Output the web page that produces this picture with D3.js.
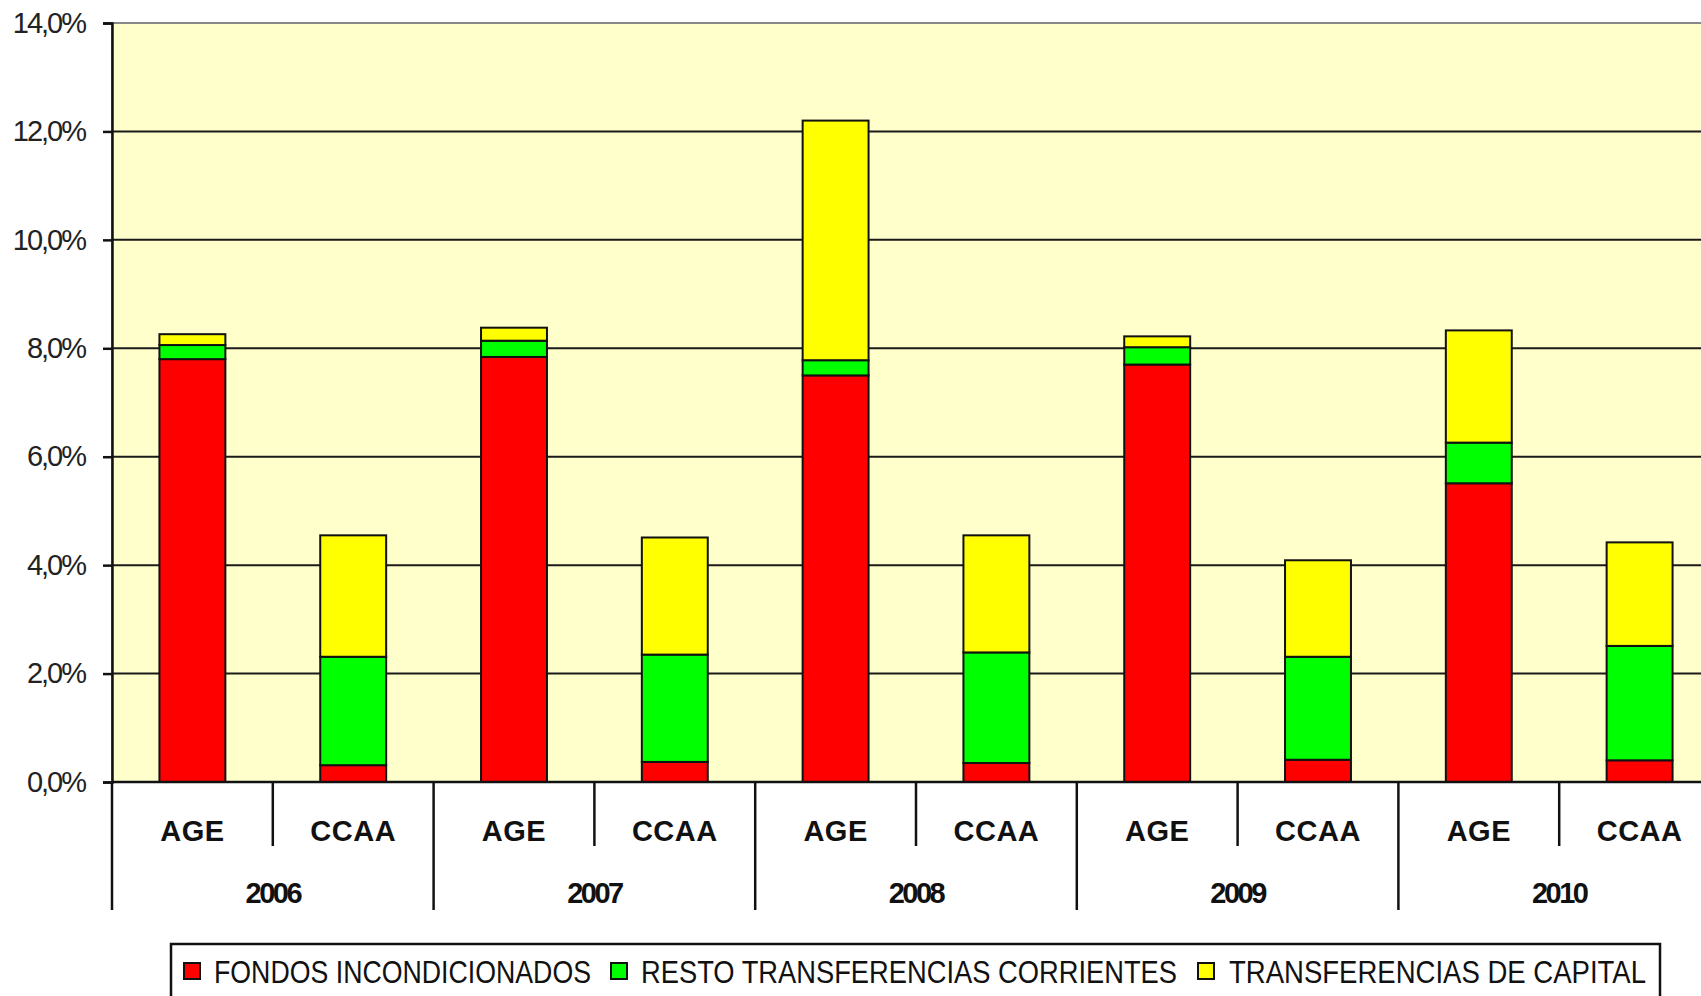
<!DOCTYPE html>
<html>
<head>
<meta charset="utf-8">
<script src="https://cdn.jsdelivr.net/npm/d3@7"></script>
<style>
  body { margin: 0; background: #fff; overflow: hidden; }
  svg { display: block; }
</style>
</head>
<body>
<div id="chart"></div>
<script>
// data (percent)
var years = ["2006", "2007", "2008", "2009", "2010"];
var admins = ["AGE", "CCAA"];
var seriesNames = ["FONDOS INCONDICIONADOS", "RESTO TRANSFERENCIAS CORRIENTES", "TRANSFERENCIAS DE CAPITAL"];
var seriesColors = ["#ff0000", "#00ff00", "#ffff00"];
// order: 2006 AGE, 2006 CCAA, 2007 AGE, ...
var fondos    = [7.80, 0.31, 7.84, 0.37, 7.50, 0.35, 7.70, 0.41, 5.51, 0.40];
var resto     = [0.26, 2.00, 0.30, 1.98, 0.28, 2.04, 0.32, 1.90, 0.75, 2.11];
var capital   = [0.20, 2.24, 0.24, 2.16, 4.42, 2.16, 0.20, 1.78, 2.07, 1.91];
var yTicks = [0, 2, 4, 6, 8, 10, 12, 14];

var w = 1701;
var h = 996;
var plotLeft = 112, plotRight = 1720, plotTop = 23, plotBottom = 782;

var rows = [];
years.forEach(function(y, yi) {
    admins.forEach(function(a, ai) {
        var i = yi * 2 + ai;
        rows.push({key: y + "-" + a, year: y, admin: a, s0: fondos[i], s1: resto[i], s2: capital[i]});
    });
});

var svg = d3.select("#chart")
            .append("svg")
            .attr("width", w)
            .attr("height", h);

var x = d3.scaleBand()
          .domain(rows.map(function(d) { return d.key; }))
          .range([plotLeft, plotRight])
          .paddingInner(0.59)
          .paddingOuter(0.295);

var y = d3.scaleLinear()
          .domain([0, 14])
          .range([plotBottom, plotTop]);

var step = x.step();
var gap = step * x.paddingInner() / 2;

// plot background
svg.append("rect")
   .attr("x", plotLeft)
   .attr("y", plotTop)
   .attr("width", plotRight - plotLeft)
   .attr("height", plotBottom - plotTop)
   .attr("fill", "#ffffcc")
   .attr("stroke", "#888")
   .attr("stroke-width", 2);

// gridlines
svg.append("g")
   .selectAll("line")
   .data(yTicks.slice(1, -1))
   .enter()
   .append("line")
   .attr("x1", plotLeft)
   .attr("x2", plotRight)
   .attr("y1", function(d) { return y(d); })
   .attr("y2", function(d) { return y(d); })
   .attr("stroke", "#1a1a1a")
   .attr("stroke-width", 2);

// y axis
var yAxis = d3.axisLeft(y)
              .tickValues(yTicks)
              .tickSize(9)
              .tickPadding(18)
              .tickFormat(function(d) { return d.toFixed(1).replace(".", ",") + "%"; });

var gy = svg.append("g")
            .attr("transform", "translate(" + plotLeft + ",0)")
            .call(yAxis);
gy.select(".domain").attr("stroke", "#111").attr("stroke-width", 2.5);
gy.selectAll(".tick line").attr("stroke", "#111").attr("stroke-width", 2.5);
gy.selectAll(".tick text")
  .attr("font-family", "Liberation Sans, Arial, sans-serif")
  .attr("font-size", 29)
  .attr("letter-spacing", -2)
  .attr("fill", "#222");

// stacked bars
var stack = d3.stack().keys(["s0", "s1", "s2"]);
var layers = stack(rows);

svg.append("g")
   .selectAll("g")
   .data(layers)
   .enter()
   .append("g")
   .attr("fill", function(d, i) { return seriesColors[i]; })
   .selectAll("rect")
   .data(function(d) { return d; })
   .enter()
   .append("rect")
   .attr("x", function(d) { return x(d.data.key); })
   .attr("y", function(d) { return y(d[1]); })
   .attr("width", x.bandwidth())
   .attr("height", function(d) { return y(d[0]) - y(d[1]); })
   .attr("stroke", "#111")
   .attr("stroke-width", 2);

// x axis baseline
svg.append("line")
   .attr("x1", plotLeft)
   .attr("x2", plotRight)
   .attr("y1", plotBottom)
   .attr("y2", plotBottom)
   .attr("stroke", "#111")
   .attr("stroke-width", 2.5);

// category separators: short between AGE/CCAA, long between years
svg.append("g")
   .selectAll("line")
   .data(rows)
   .enter()
   .append("line")
   .attr("x1", function(d) { return x(d.key) - gap; })
   .attr("x2", function(d) { return x(d.key) - gap; })
   .attr("y1", plotBottom)
   .attr("y2", function(d) { return d.admin === "AGE" ? 910 : 846; })
   .attr("stroke", "#111")
   .attr("stroke-width", 2.5);

// admin labels
svg.append("g")
   .selectAll("text")
   .data(rows)
   .enter()
   .append("text")
   .text(function(d) { return d.admin; })
   .attr("x", function(d) { return x(d.key) + x.bandwidth() / 2; })
   .attr("y", 841)
   .attr("text-anchor", "middle")
   .attr("font-family", "Liberation Sans, Arial, sans-serif")
   .attr("font-weight", "bold")
   .attr("font-size", 29)
   .attr("letter-spacing", 0.5)
   .attr("fill", "#111");

// year labels
svg.append("g")
   .selectAll("text")
   .data(years)
   .enter()
   .append("text")
   .text(function(d) { return d; })
   .attr("x", function(d) { return x(d + "-AGE") - gap + step; })
   .attr("y", 903)
   .attr("text-anchor", "middle")
   .attr("font-family", "Liberation Sans, Arial, sans-serif")
   .attr("font-weight", "bold")
   .attr("font-size", 29)
   .attr("letter-spacing", -2.5)
   .attr("fill", "#111");

// legend
var legendItems = [
    {name: seriesNames[0], color: seriesColors[0], sx: 184, tx: 214, tw: 377},
    {name: seriesNames[1], color: seriesColors[1], sx: 611, tx: 641, tw: 536},
    {name: seriesNames[2], color: seriesColors[2], sx: 1198, tx: 1229, tw: 417}
];

svg.append("rect")
   .attr("x", 171)
   .attr("y", 944)
   .attr("width", 1489)
   .attr("height", 80)
   .attr("fill", "#fff")
   .attr("stroke", "#111")
   .attr("stroke-width", 2.5);

var lg = svg.append("g")
            .selectAll("g")
            .data(legendItems)
            .enter()
            .append("g");

lg.append("rect")
  .attr("x", function(d) { return d.sx; })
  .attr("y", 963)
  .attr("width", 16)
  .attr("height", 16)
  .attr("fill", function(d) { return d.color; })
  .attr("stroke", "#111")
  .attr("stroke-width", 2);

lg.append("text")
  .text(function(d) { return d.name; })
  .attr("x", function(d) { return d.tx; })
  .attr("y", 983)
  .attr("textLength", function(d) { return d.tw; })
  .attr("lengthAdjust", "spacingAndGlyphs")
  .attr("font-family", "Liberation Sans, Arial, sans-serif")
  .attr("font-size", 31)
  .attr("fill", "#111");
</script>
</body>
</html>
